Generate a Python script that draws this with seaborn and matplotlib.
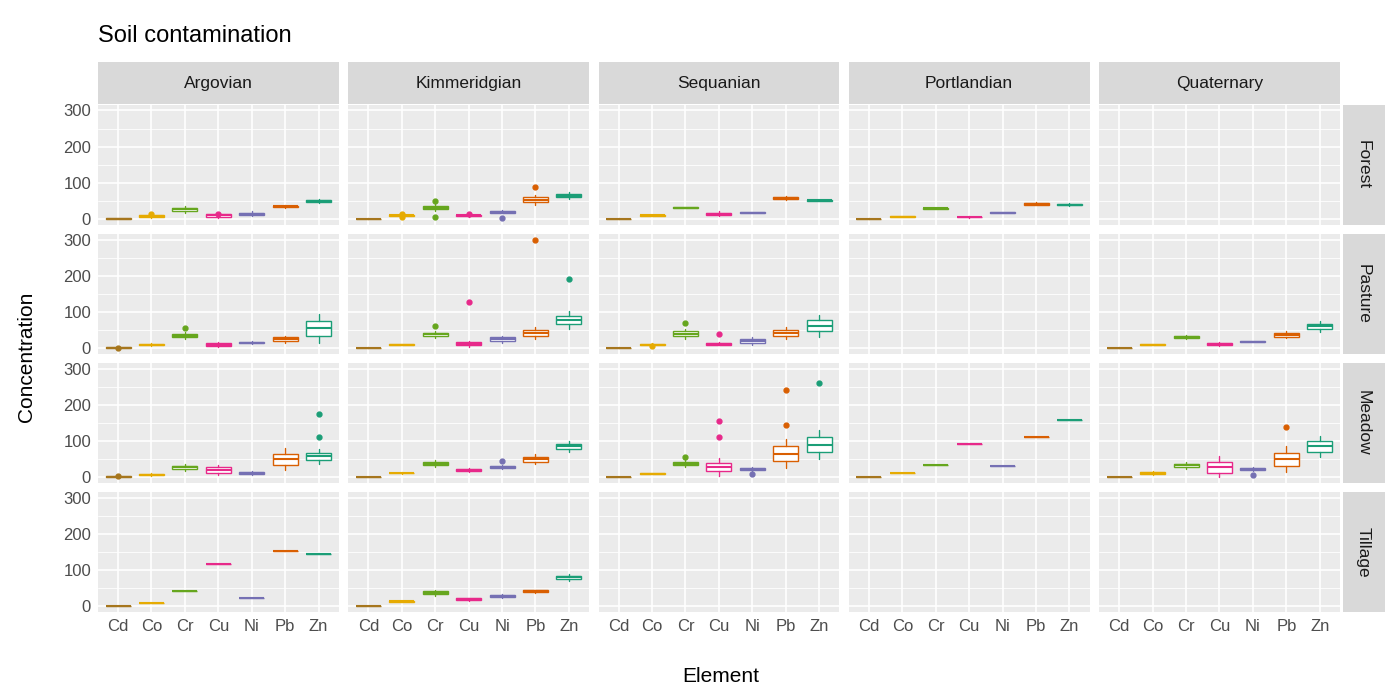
import matplotlib
matplotlib.use("Agg")
import matplotlib.pyplot as plt
from matplotlib.patches import Rectangle
import seaborn as sns

sns.set_theme(style="darkgrid")
plt.rcParams['font.family'] = ['Arial', 'Liberation Sans', 'DejaVu Sans']

elements = ["Cd", "Co", "Cr", "Cu", "Ni", "Pb", "Zn"]
rocks = ["Argovian", "Kimmeridgian", "Sequanian", "Portlandian", "Quaternary"]
landuses = ["Forest", "Pasture", "Meadow", "Tillage"]
colors = ["#A6761D", "#E6AB02", "#66A61E", "#E7298A", "#7570B3", "#D95F02", "#1B9E77"]

# medians per (rock, landuse); missing = no data
medians = {
    ("Argovian", "Forest"): [1, 8, 27, 10, 15, 35, 50],
    ("Kimmeridgian", "Forest"): [1, 10, 32, 10, 20, 53, 65],
    ("Sequanian", "Forest"): [1, 10, 32, 15, 18, 58, 52],
    ("Portlandian", "Forest"): [1, 7, 30, 6, 18, 42, 40],
    ("Argovian", "Pasture"): [1, 10, 35, 10, 15, 25, 55],
    ("Kimmeridgian", "Pasture"): [1, 10, 38, 12, 25, 42, 78],
    ("Sequanian", "Pasture"): [1, 10, 40, 12, 20, 42, 62],
    ("Quaternary", "Pasture"): [1, 10, 30, 12, 18, 37, 60],
    ("Argovian", "Meadow"): [2, 7, 27, 20, 12, 50, 58],
    ("Kimmeridgian", "Meadow"): [1, 12, 38, 20, 28, 50, 85],
    ("Sequanian", "Meadow"): [1, 10, 38, 28, 22, 65, 90],
    ("Portlandian", "Meadow"): [1, 12, 35, 92, 30, 110, 158],
    ("Quaternary", "Meadow"): [1, 12, 33, 28, 22, 50, 85],
    ("Argovian", "Tillage"): [1, 10, 42, 118, 22, 153, 145],
    ("Kimmeridgian", "Tillage"): [1, 14, 38, 20, 28, 42, 80],
}
# half of interquartile range
halfwidths = {
    ("Argovian", "Forest"): [1, 3, 5, 3, 3, 2, 3],
    ("Kimmeridgian", "Forest"): [0.5, 2, 5, 2, 2, 7, 5],
    ("Sequanian", "Forest"): [0.5, 1, 1, 3, 1, 3, 1],
    ("Portlandian", "Forest"): [0.5, 1, 1, 1, 1, 2, 2],
    ("Argovian", "Pasture"): [1, 2, 5, 3, 2, 5, 20],
    ("Kimmeridgian", "Pasture"): [0.5, 1, 5, 4, 5, 8, 12],
    ("Sequanian", "Pasture"): [0.5, 2, 7, 2, 5, 8, 15],
    ("Quaternary", "Pasture"): [0.5, 1, 3, 3, 1, 5, 8],
    ("Argovian", "Meadow"): [1, 2, 5, 7, 3, 15, 10],
    ("Kimmeridgian", "Meadow"): [0.5, 1, 5, 3, 3, 7, 7],
    ("Sequanian", "Meadow"): [0.5, 1, 5, 12, 3, 20, 20],
    ("Portlandian", "Meadow"): [0, 0, 0, 0, 0, 0, 0],
    ("Quaternary", "Meadow"): [0.5, 3, 5, 15, 3, 18, 15],
    ("Argovian", "Tillage"): [0, 0, 0, 0, 0, 0, 0],
    ("Kimmeridgian", "Tillage"): [0.5, 1, 4, 2, 3, 2, 5],
}
outliers = {
    ("Kimmeridgian", "Forest"): {"Co": [5, 15], "Cr": [50, 5], "Cu": [15], "Ni": [3], "Pb": [88]},
    ("Argovian", "Forest"): {"Co": [13], "Cu": [15]},
    ("Argovian", "Pasture"): {"Cr": [55], "Cd": [1]},
    ("Kimmeridgian", "Pasture"): {"Cr": [60], "Cu": [128], "Pb": [300], "Zn": [192]},
    ("Sequanian", "Pasture"): {"Co": [5], "Cr": [70], "Cu": [38]},
    ("Argovian", "Meadow"): {"Cd": [4], "Zn": [112, 175]},
    ("Kimmeridgian", "Meadow"): {"Ni": [45]},
    ("Sequanian", "Meadow"): {"Cr": [57], "Cu": [112, 155], "Ni": [10], "Pb": [145, 240], "Zn": [260]},
    ("Quaternary", "Meadow"): {"Ni": [5], "Pb": [140]},
}

fig, axes = plt.subplots(4, 5, figsize=(14, 7), dpi=100, sharex=True, sharey=True)
fig.subplots_adjust(left=0.07, right=0.957, top=0.85, bottom=0.126, wspace=0.04, hspace=0.08)

for i, lu in enumerate(landuses):
    for j, rock in enumerate(rocks):
        ax = axes[i, j]
        ax.set_facecolor("#EBEBEB")
        ax.set_xlim(0.4, 7.6)
        ax.set_ylim(-15, 315)
        ax.set_yticks([0, 100, 200, 300])
        ax.set_yticks([50, 150, 250], minor=True)
        ax.grid(True, which="major", color="white", lw=1.2)
        ax.grid(True, which="minor", axis="y", color="white", lw=0.6)
        for s in ax.spines.values():
            s.set_visible(False)
        ax.tick_params(length=3, color="#333333", labelcolor="#4D4D4D", labelsize=12, pad=2)
        key = (rock, lu)
        if key in medians:
            for k, el in enumerate(elements):
                m = medians[key][k]
                h = halfwidths[key][k]
                st = dict(med=m, q1=m - h, q3=m + h, whislo=max(0, m - 2 * h),
                          whishi=m + 2 * h, fliers=outliers.get(key, {}).get(el, []))
                c = colors[k]
                ax.bxp([st], positions=[k + 1], widths=0.75, patch_artist=True,
                       boxprops=dict(facecolor="white", edgecolor=c, lw=1),
                       medianprops=dict(color=c, lw=1.5),
                       whiskerprops=dict(color=c), capprops=dict(lw=0),
                       flierprops=dict(marker="o", markersize=3.5, markerfacecolor=c,
                                       markeredgecolor=c))
        ax.set_xticks(range(1, 8))
        ax.set_xticklabels(elements)
        pos = ax.get_position()
        if i == 0:
            fig.patches.append(Rectangle((pos.x0, pos.y1 + 0.002), pos.width, 0.059,
                                         transform=fig.transFigure, facecolor="#D9D9D9",
                                         edgecolor="none"))
            fig.text(pos.x0 + pos.width / 2, pos.y1 + 0.031, rock, ha="center", va="center",
                     fontsize=12.5, color="#1A1A1A")
        if j == 4:
            fig.patches.append(Rectangle((pos.x1 + 0.002, pos.y0), 0.03, pos.height,
                                         transform=fig.transFigure, facecolor="#D9D9D9",
                                         edgecolor="none"))
            fig.text(pos.x1 + 0.017, pos.y0 + pos.height / 2, lu, rotation=-90,
                     ha="center", va="center", fontsize=12.5, color="#1A1A1A")

fig.text(0.515, 0.025, "Element", ha="center", fontsize=15, color="black")
fig.text(0.012, 0.49, "Concentration", va="center", rotation=90, fontsize=15, color="black")
fig.text(0.07, 0.94, "Soil contamination", fontsize=17, color="black")
fig.savefig("out.png")
